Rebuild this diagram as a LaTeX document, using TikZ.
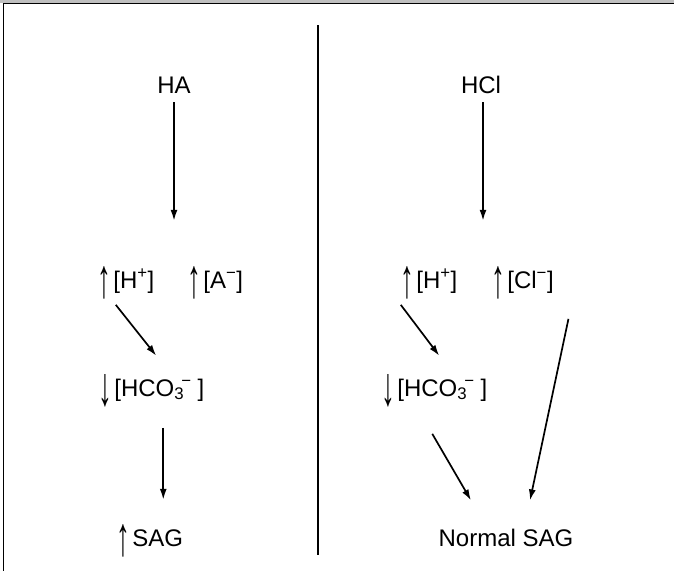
\documentclass[tikz,border=0pt]{standalone}
\usepackage{fontspec}
\setmainfont{Liberation Sans}
\usetikzlibrary{arrows.meta}
\tikzset{flow/.style={-{Latex[length=11pt,width=7pt]},line width=1.7pt},
    lbl/.style={inner sep=0pt,font=\fontsize{24}{28}\selectfont}
}
\newcommand{\upar}{\raisebox{-9pt}{\scalebox{1.15}[2.3]{\bfseries\char"2191}}\hspace{0.1em}}
\newcommand{\dnar}{\raisebox{-9pt}{\scalebox{1.15}[2.3]{\bfseries\char"2193}}\hspace{0.1em}}

\begin{document}
\begin{tikzpicture}[x=1pt,y=-1pt]
           \useasboundingbox (0,0) rectangle (674,571);
           \fill[black!25] (0,0) rectangle (674,3);
           \draw[line width=1.5pt] (674,3.5) -- (3.5,3.5) -- (3.5,571);
           \draw[line width=2pt] (318,25) -- (318,555);
           % left column
           \node[lbl,anchor=base] (ha) at (174,93) {HA};
           \node[lbl,anchor=base west] (hl) at (97,288) {\upar[H\textsuperscript{+}]};
           \node[lbl,anchor=base west] (al) at (187,288) {\upar[A\textsuperscript{−}]};
           \node[lbl,anchor=base west] (hcol) at (98,396) {\dnar[HCO\textsubscript{3}\hspace{-0.12em}\textsuperscript{−}\hspace{0.25em}]};
           \node[lbl,anchor=base west] (sagl) at (116,546) {\upar SAG};
           \coordinate (lmid) at ([xshift=12pt,yshift=-21pt]hcol.south);
           \draw[flow,shorten <=9pt,shorten >=45pt] (ha.south) -- (ha |- hl.north);
           \draw[flow] ([xshift=-10pt,yshift=-6pt]hl.south) -- ([xshift=5pt,yshift=18pt]hcol.north);
           \draw[flow,shorten >=24pt] (lmid) -- (lmid |- sagl.north);
           % right column
           \node[lbl,anchor=base] (hcl) at (481,93) {HCl};
           \node[lbl,anchor=base west] (hr) at (400,288) {\upar[H\textsuperscript{+}]};
           \node[lbl,anchor=base west] (clr) at (491,288) {\upar[Cl\textsuperscript{−}]};
           \node[lbl,anchor=base west] (hcor) at (381,396) {\dnar[HCO\textsubscript{3}\hspace{-0.12em}\textsuperscript{−}\hspace{0.25em}]};
           \node[lbl,anchor=base] (sagr) at (506,546) {Normal SAG};
           \draw[flow,shorten <=9pt,shorten >=45pt] ([xshift=2pt]hcl.south) -- ([xshift=2pt]hcl |- hr.north);
           \draw[flow] ([xshift=-28pt,yshift=-6pt]hr.south) -- ([xshift=5pt,yshift=18pt]hcor.north);
           \draw[flow] ([xshift=46pt,yshift=-20pt]clr.south) -- ([xshift=24pt,yshift=28pt]sagr.north);
           \draw[flow] ([xshift=-2pt,yshift=-27pt]hcor.south) -- ([xshift=-35pt,yshift=28pt]sagr.north);
\end{tikzpicture}
\end{document}
